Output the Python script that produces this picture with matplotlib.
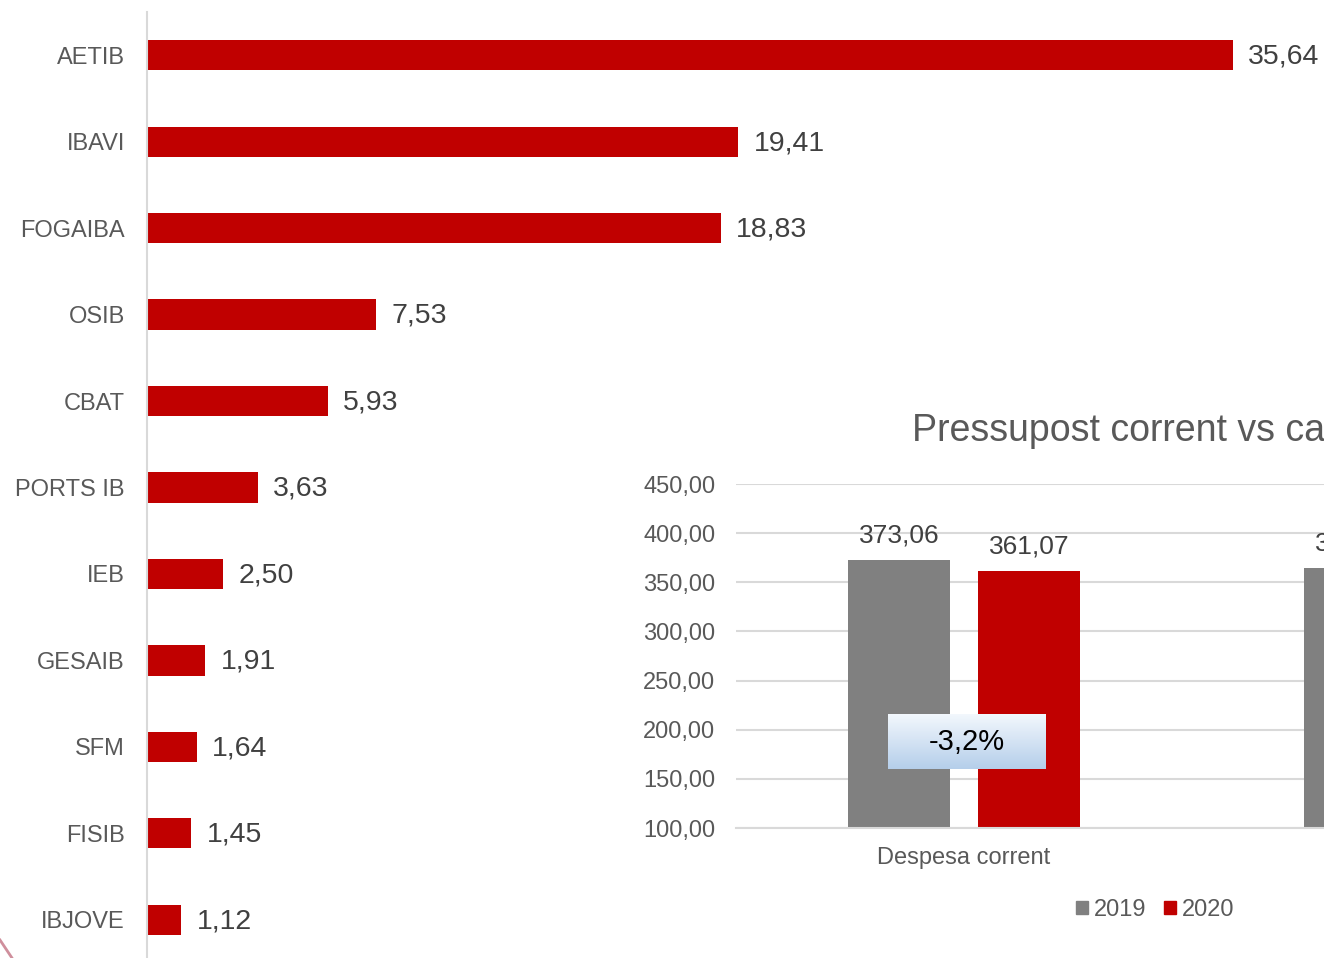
import numpy as np
import matplotlib
matplotlib.use('Agg')
import matplotlib.pyplot as plt
from matplotlib.patches import Patch
from matplotlib.lines import Line2D

plt.rcParams['font.family'] = ['Liberation Sans', 'DejaVu Sans']

# left chart: entities
entities = ['AETIB', 'IBAVI', 'FOGAIBA', 'OSIB', 'CBAT', 'PORTS IB',
            'IEB', 'GESAIB', 'SFM', 'FISIB', 'IBJOVE']
entity_values = [35.64, 19.41, 18.83, 7.53, 5.93, 3.63, 2.50, 1.91, 1.64, 1.45, 1.12]

# inset chart: current vs capital budget
budget_cats = ['Despesa corrent', 'Despesa capital']
budget_2019 = [373.06, 364.50]
budget_2020 = [361.07, 366.00]
budget_years = ['2019', '2020']

RED = '#c00000'
GRAY = '#808080'
LABEL = '#595959'
VALUE = '#404040'
GRID = '#d9d9d9'


def fmt(v, nd=2):
    return f'{v:.{nd}f}'.replace('.', ',')


W, H = 1324, 958
fig = plt.figure(figsize=(W / 100, H / 100), dpi=100)

# ---- horizontal bars (axes from y=12px down to y=963px)
ax = fig.add_axes([147 / W, 1 - 963 / H, 1177 / W, 951 / H])
y = np.arange(len(entities))
ax.barh(y, entity_values, height=0.35, color=RED)
ax.set_ylim(len(entities) - 0.5, -0.5)
ax.set_xlim(0, 38.63)
ax.set_yticks(y)
ax.set_yticklabels(entities, fontsize=17, color=LABEL)
ax.tick_params(axis='y', length=0, pad=16)
ax.set_xticks([])
for s in ['top', 'right', 'bottom']:
    ax.spines[s].set_visible(False)
ax.spines['left'].set_color(GRID)
ax.spines['left'].set_linewidth(1.5)
for yi, v in zip(y, entity_values):
    ax.annotate(fmt(v), (v, yi), xytext=(11, -1), textcoords='offset points',
                va='center', ha='left', fontsize=20.5, color=VALUE)

# ---- inset column chart
ax2 = fig.add_axes([736 / W, 1 - 828 / H, 912 / W, 344 / H])
x = np.arange(len(budget_cats))
bw = 0.224
off = 0.1425
ax2.bar(x - off, budget_2019, width=bw, color=GRAY, zorder=2)
ax2.bar(x + off, budget_2020, width=bw, color=RED, zorder=2)
ax2.set_xlim(-0.5, 1.5)
ax2.set_ylim(100, 450)
ticks = np.arange(100, 451, 50)
ax2.set_yticks(ticks)
ax2.set_yticklabels([fmt(t) for t in ticks], fontsize=17, color=LABEL)
ax2.tick_params(axis='y', length=0, pad=15)
ax2.set_xticks(x)
ax2.set_xticklabels(budget_cats, fontsize=17, color=LABEL)
ax2.tick_params(axis='x', length=0, pad=14)
ax2.grid(axis='y', color=GRID, linewidth=1.5, zorder=0)
ax2.set_axisbelow(True)
for s in ['top', 'right', 'left']:
    ax2.spines[s].set_visible(False)
ax2.spines['bottom'].set_color(GRID)
ax2.spines['bottom'].set_linewidth(1.5)
for xi, v in zip(x - off, budget_2019):
    ax2.annotate(fmt(v), (xi, v), xytext=(0, 9), textcoords='offset points',
                 ha='center', va='bottom', fontsize=19, color=VALUE)
for xi, v in zip(x + off, budget_2020):
    ax2.annotate(fmt(v), (xi, v), xytext=(0, 9), textcoords='offset points',
                 ha='center', va='bottom', fontsize=19, color=VALUE)

fig.text(912 / W, 1 - 431 / H, 'Pressupost corrent vs capital', ha='left',
         va='center', fontsize=27, color=LABEL)

handles = [Patch(color=GRAY), Patch(color=RED)]
fig.legend(handles, budget_years, loc='center', bbox_to_anchor=(1155 / W, 1 - 910 / H),
           ncol=2, frameon=False, fontsize=17, handlelength=0.5, handleheight=0.5,
           handletextpad=0.25, columnspacing=0.75, labelcolor=LABEL)

# change box with gradient
pct = (budget_2020[0] - budget_2019[0]) / budget_2019[0] * 100
bax = fig.add_axes([888 / W, 1 - 769 / H, 158 / W, 55 / H])
top = np.array([0.95, 0.97, 0.99])
bot = np.array([0.71, 0.81, 0.92])
t = np.linspace(0, 1, 64)[:, None]
grad = (top * (1 - t) + bot * t)[:, None, :]
bax.imshow(grad, aspect='auto', extent=[0, 1, 0, 1])
bax.set_axis_off()
bax.text(0.5, 0.5, fmt(pct, 1) + '%', ha='center', va='center', fontsize=21,
         color='black', transform=bax.transAxes)

# small decorative stroke in the corner
fig.add_artist(Line2D([0, 12 / W], [18 / H, 0], color='#a0203a', lw=2,
                      alpha=0.5, transform=fig.transFigure))

fig.savefig('out.png', dpi=100)
